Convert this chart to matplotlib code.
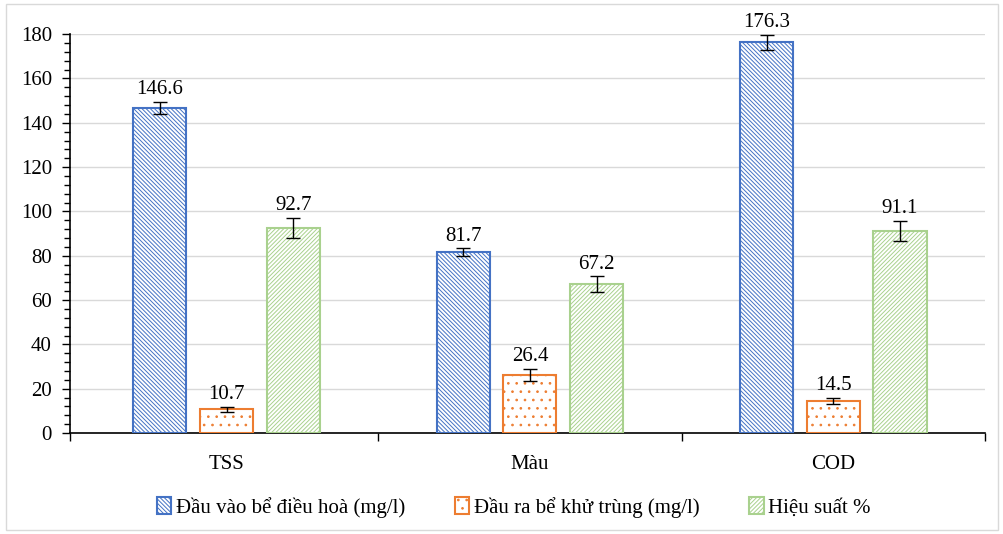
import matplotlib.pyplot as plt
import numpy as np
from matplotlib.patches import Rectangle

plt.rcParams['font.family'] = ['Liberation Serif', 'DejaVu Serif']
plt.rcParams['hatch.linewidth'] = 0.7

categories = ['TSS', 'Màu', 'COD']
series_names = ['Đầu vào bể điều hoà (mg/l)', 'Đầu ra bể khử trùng (mg/l)', 'Hiệu suất %']
inlet = [146.6, 81.7, 176.3]
outlet = [10.7, 26.4, 14.5]
efficiency = [92.7, 67.2, 91.1]
inlet_err = [2.8, 1.7, 3.5]
outlet_err = [1.1, 2.7, 1.5]
efficiency_err = [4.5, 3.6, 4.6]

colors = ['#4472C4', '#ED7D31', '#A9D18E']
hatches = ['\\' * 8, '..', '/' * 8]

fig = plt.figure(figsize=(10.04, 5.34), dpi=100)
ax = fig.add_axes([0.0697, 0.189, 0.9113, 0.747])

# light frame around the whole chart, like the Excel chart area
fig.patches.append(Rectangle((0.006, 0.008), 0.988, 0.985, transform=fig.transFigure,
                             fill=False, edgecolor='#D9D9D9', linewidth=1))

x = np.arange(len(categories))
width = 0.175
offsets = [-0.22, 0, 0.22]
values = [inlet, outlet, efficiency]
errors = [inlet_err, outlet_err, efficiency_err]

for i in range(3):
    ax.bar(x + offsets[i], values[i], width, color='white', edgecolor=colors[i],
           hatch=hatches[i], linewidth=1.5, label=series_names[i], zorder=3)
    ax.errorbar(x + offsets[i], values[i], yerr=errors[i], fmt='none', ecolor='black',
                elinewidth=1, capsize=5, capthick=1, zorder=4)
    for xi, v, e in zip(x + offsets[i], values[i], errors[i]):
        ax.text(xi, v + e + 1.2, f'{v}', ha='center', va='bottom', fontsize=15)

ax.set_xlim(-0.516, 2.5)
ax.set_ylim(0, 180)
ax.set_yticks(np.arange(0, 181, 20))
ax.set_yticks(np.arange(0, 181, 4), minor=True)
ax.yaxis.grid(True, color='#D9D9D9', linewidth=1, zorder=0)
ax.set_axisbelow(True)

ax.set_xticks(x)
ax.set_xticklabels(categories, fontsize=15)
ax.tick_params(axis='x', length=0, pad=16)
# category boundary ticks
ax.set_xticks([-0.516, 0.5, 1.5, 2.5], minor=True)
ax.tick_params(axis='x', which='minor', length=6, width=1)
ax.tick_params(axis='y', which='major', length=6, width=1, labelsize=15, pad=7)
ax.tick_params(axis='y', which='minor', length=4, width=1)

for side in ['top', 'right']:
    ax.spines[side].set_visible(False)
ax.spines['left'].set_linewidth(1.2)
ax.spines['bottom'].set_linewidth(1.2)

ax.legend(loc='upper center', bbox_to_anchor=(0.485, -0.113), ncol=3, frameon=False,
          fontsize=15, handlelength=0.7, handleheight=0.9, handletextpad=0.2,
          columnspacing=2.4)

fig.savefig('out.png', dpi=100)
